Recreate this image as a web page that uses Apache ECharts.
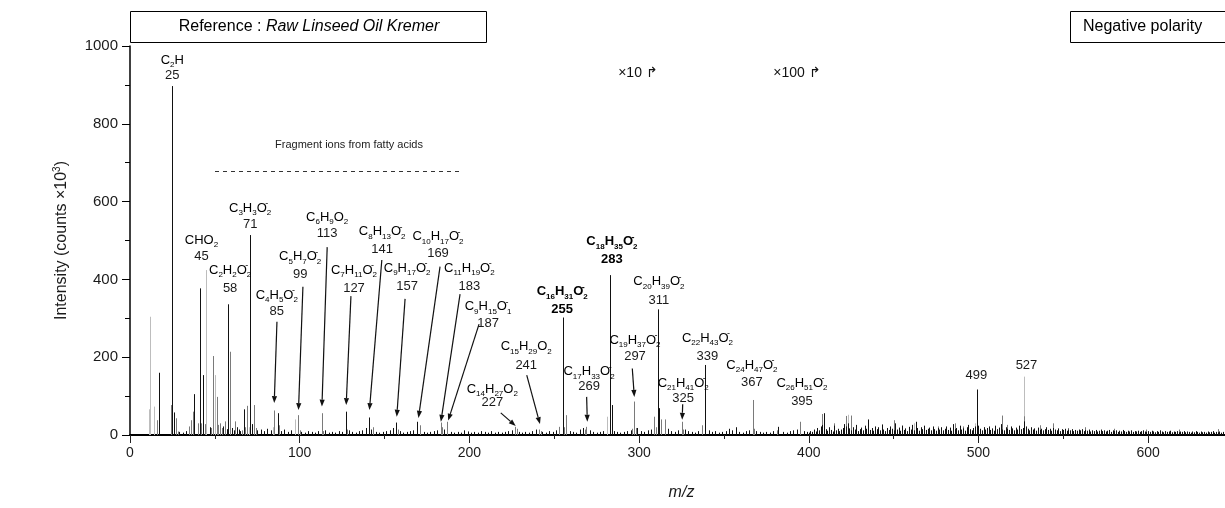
<!DOCTYPE html>
<html>
<head>
<meta charset="utf-8">
<script src="https://cdn.jsdelivr.net/npm/echarts@6/dist/echarts.min.js"></script>
<style>
  html, body { margin: 0; padding: 0; background: #fff; }
  #chart { width: 1225px; height: 508px; }
</style>
</head>
<body>
<div id="chart"></div>
<script>
// ToF-SIMS negative spectrum, intensity in counts x10^3, peaks as [m/z, intensity]
const peaksBlack = [
  [17,160],[25,897],[26,58],[29,8],[31,6],[33,10],[38,105],[41,377],[43,154],[47,20],[55,22],[57,15],[58,336],
  [60,18],[61,12],[63,20],[64,14],[65,10],[67,66],[71,514],[72,28],[75,12],[77,14],[79,10],[81,16],[83,12],
  [87,56],[89,10],[91,14],[93,8],[95,12],[101,8],[103,6],[105,10],[107,8],[109,6],[111,10],[115,12],[117,6],
  [119,8],[121,6],[123,10],[125,8],[127,60],[129,12],[131,8],[133,6],[135,10],[137,12],[139,18],[141,45],
  [142,14],[145,8],[147,6],[149,8],[151,10],[153,12],[155,18],[157,32],[159,10],[161,6],[163,8],[165,10],
  [167,12],[169,34],[173,8],[175,6],[177,8],[179,10],[181,12],[185,14],[189,8],[191,6],[193,8],[195,6],
  [197,12],[199,8],[201,6],[203,8],[205,6],[207,10],[209,8],[211,6],[213,10],[215,6],[217,8],[219,6],[221,8],
  [223,10],[225,12],[229,8],[231,6],[233,8],[235,6],[237,10],[239,14],[243,8],[245,6],[247,10],[249,8],
  [251,12],[255,302],[259,10],[261,8],[263,6],[265,14],[267,18],[271,12],[273,8],[275,6],[277,8],[279,10],
  [283,411],[284,77],[285,10],[287,8],[289,6],[291,8],[293,10],[295,12],[299,18],[301,10],[303,8],[305,12],
  [307,14],[311,323],[312,69],[317,16],[319,10],[321,8],[323,12],[327,14],[329,10],[331,8],[333,6],[335,10],
  [339,180],[341,12],[343,8],[345,10],[347,6],[349,8],[351,10],[353,16],[355,12],[357,20],[359,8],[361,6],
  [363,10],[365,12],[369,10],[371,8],[373,6],[375,8],[377,6],[379,10],[382,21],[385,8],[387,6],[389,10],
  [391,12],[393,14],[397,10],[399,8]
];
const peaksGray = [
  [16,38],[24,77],[27,43],[28,9],[35,22],[36,38],[37,60],[40,30],[42,30],[44,28],[48,18],[49,203],[51,98],
  [52,26],[53,30],[54,18],[56,35],[59,214],[62,35],[66,12],[68,20],[69,75],[73,77],[74,18],[85,63],[88,25],
  [99,51],[100,12],[113,56],[114,10],[128,14],[143,20],[158,14],[171,25],[183,32],[184,20],[187,34],[199,10],
  [227,21],[228,16],[241,14],[242,10],[253,21],[256,20],[257,51],[268,14],[269,21],[296,16],[297,86],[298,18],
  [309,47],[310,20],[313,40],[315,40],[325,34],[326,14],[337,25],[353,10],[367,90],[368,16],[381,12],[395,34],
  [408,54],[415,30],[422,49],[425,50],[443,28],[450,38],[455,24],[476,22],[486,30],[491,22],[503,20],[514,50],
  [517,26],[527,48],[536,25],[544,30],[553,18],[563,20],[580,16],[599,14],[618,14],[641,15]
];
const peaksLight = [
  [11,66],[12,304],[14,73],[45,424],[50,154],[70,20],[84,20],[97,40],[281,47],[423,52],[462,30],[498,30],[527,150]
];
// dense high-mass region, one value per nominal mass starting at m/z 400
const denseStart = 400;
const denseBlack = [
  6,10,8,14,9,18,12,22,26,56,15,11,20,13,9,24,12,16,10,14,
  18,28,22,30,17,12,20,14,26,10,15,19,12,24,16,40,13,18,11,22,
  15,20,12,26,14,10,18,13,22,16,12,30,14,19,11,24,13,17,10,21,
  14,26,12,34,18,11,20,15,24,13,16,19,12,22,15,11,18,14,20,12,
  16,22,13,19,11,28,15,18,12,24,14,17,11,20,26,15,12,18,22,117,
  24,16,12,20,14,18,22,13,17,11,24,15,19,28,14,12,20,16,13,22,
  17,12,19,14,24,15,18,35,22,16,12,20,14,17,11,19,13,16,12,15,
  20,13,16,11,18,14,12,17,10,15,13,16,11,14,12,15,10,13,11,14,
  12,15,10,13,11,14,9,12,10,13,9,11,14,10,12,9,11,13,8,12,
  10,12,8,11,9,13,10,8,11,9,12,8,10,9,11,8,10,12,9,8,
  10,8,11,9,7,10,8,12,9,7,10,8,9,11,7,9,8,10,7,9,
  8,10,7,9,8,6,9,7,10,8,6,9,7,8,6,9,7,8,10,6,
  8,7,9,6,8,7,12,6,8,7,6
];

// peak assignments
const labelFormulas = [
  'C2H','CHO2','C2H2O2-','C3H3O2-','C4H5O2-','C5H7O2-','C6H9O2','C7H11O2-','C8H13O2-','C9H17O2-',
  'C10H17O2-','C11H19O2-','C9H15O1-','C14H27O2','C15H29O2','C16H31O2-','C17H33O2-','C18H35O2-',
  'C19H37O2-','C20H39O2-','C21H41O2-','C22H43O2-','C24H47O2-','C26H51O2-','',''
];
const labelMasses = [
  '25','45','58','71','85','99','113','127','141','157','169','183','187','227','241','255','269','283',
  '297','311','325','339','367','395','499','527'
];
const boldMasses = ['255','283'];

// label placement in axis units: [centre m/z, formula y, number y, arrow [x1,y1,x2,y2] or null]
const labelPlacement = [
  [24.9,964,925,null],
  [42.1,501,458,null],
  [59,424,378,null],
  [70.8,583,542,null],
  [86.5,360,317,[86.6,291,85,82]],
  [100.3,458,414,[101.9,381,99.3,64]],
  [116.2,560,517,[116.2,483,113.1,73]],
  [132,424,378,[130.2,357,127.4,77]],
  [148.6,523,478,[148.4,450,141.1,64]],
  [163.3,429,383,[162.1,350,157.2,47]],
  [181.5,510,468,[182.7,433,170,44]],
  [200,429,383,[194.5,362,183.2,34]],
  [211,330,288,[205.7,285,187.5,37]],
  [213.5,118,85,[218.5,57,227.3,23]],
  [233.5,227,180,[233.8,154,241.6,28]],
  [254.7,368,324,null],
  [270.5,163,124,[269.1,98,269.5,34]],
  [284,497,452,null],
  [297.6,244,201,[296,171,297.2,98]],
  [311.7,394,347,null],
  [326,133,95,[325.7,79,325.4,39]],
  [340.3,249,201,null],
  [366.5,180,134,null],
  [396,133,86,null],
  [498.8,null,152,null],
  [528.3,null,180,null]
];

const xTickStep = 100;
const yTickStep = 200;

const FONT = '"Liberation Sans", Arial, Helvetica, sans-serif';
const TEXT = '#1a1a1a';

const densePeaks = denseBlack.map((v, i) => [denseStart + i, v]);
const blackAll = peaksBlack.concat(densePeaks);

function stickSeries(name, data, color, z) {
  return {
    name, type: 'custom', data, z, clip: true,
    encode: { x: 0, y: 1 },
    renderItem(params, api) {
      const base = api.coord([api.value(0), 0]);
      const top = api.coord([api.value(0), api.value(1)]);
      const x = Math.round(base[0]) + 0.5;
      return {
        type: 'line',
        shape: { x1: x, y1: base[1], x2: x, y2: top[1] },
        style: { stroke: color, lineWidth: 1 }
      };
    }
  };
}

function formulaRich(f, bold) {
  const k = bold ? 'B' : '';
  let out = '';
  const re = /([A-Za-z]+)|(\d+)|(-)/g;
  let m;
  while ((m = re.exec(f))) {
    if (m[1]) out += '{m' + k + '|' + m[1] + '}';
    else if (m[2]) out += '{s' + k + '|' + m[2] + '}';
    else out += '{p' + k + '|-}';
  }
  // put the charge sign above the last subscript
  out = out.replace(/(\{s[B]?\|\d+\})(\{p[B]?\|-\})$/, '$2$1');
  return out;
}

const rich = {
  m:  { fontFamily: FONT, fontSize: 13, lineHeight: 18, color: TEXT, verticalAlign: 'middle' },
  s:  { fontFamily: FONT, fontSize: 8, lineHeight: 8, color: TEXT, verticalAlign: 'bottom' },
  p:  { fontFamily: FONT, fontSize: 9, lineHeight: 9, color: TEXT, verticalAlign: 'top', width: 0 },
  mB: { fontFamily: FONT, fontSize: 13, lineHeight: 18, color: '#000', fontWeight: 'bold', verticalAlign: 'middle' },
  sB: { fontFamily: FONT, fontSize: 8, lineHeight: 8, color: '#000', fontWeight: 'bold', verticalAlign: 'bottom' },
  pB: { fontFamily: FONT, fontSize: 9, lineHeight: 9, color: '#000', fontWeight: 'bold', verticalAlign: 'top', width: 0 }
};

const labelSeries = {
  name: 'assignments', type: 'custom', z: 10, clip: false,
  data: labelPlacement.map((p, i) => [p[0], p[2], i]),
  encode: { x: 0, y: 1 },
  renderItem(params, api) {
    const i = api.value(2);
    const p = labelPlacement[i];
    const bold = boldMasses.indexOf(labelMasses[i]) >= 0;
    const children = [];
    if (labelFormulas[i]) {
      const c = api.coord([p[0], p[1]]);
      children.push({
        type: 'text', x: c[0], y: c[1],
        style: { text: formulaRich(labelFormulas[i], bold), rich, align: 'center', verticalAlign: 'middle' }
      });
    }
    const n = api.coord([p[0], p[2]]);
    children.push({
      type: 'text', x: n[0], y: n[1],
      style: {
        text: labelMasses[i], fill: bold ? '#000' : TEXT, align: 'center', verticalAlign: 'middle',
        font: (bold ? 'bold ' : '') + '13px ' + FONT
      }
    });
    if (p[3]) {
      const a = api.coord([p[3][0], p[3][1]]);
      const b = api.coord([p[3][2], p[3][3]]);
      const dx = b[0] - a[0], dy = b[1] - a[1];
      const len = Math.sqrt(dx * dx + dy * dy);
      const ux = dx / len, uy = dy / len;
      const hl = 7, hw = 2.6;
      const bx = b[0] - ux * hl, by = b[1] - uy * hl;
      children.push({
        type: 'line',
        shape: { x1: a[0], y1: a[1], x2: bx, y2: by },
        style: { stroke: '#111', lineWidth: 1.2 }
      });
      children.push({
        type: 'polygon',
        shape: { points: [[b[0], b[1]], [bx - uy * hw, by + ux * hw], [bx + uy * hw, by - ux * hw]] },
        style: { fill: '#111' }
      });
    }
    return { type: 'group', children };
  }
};

const chart = echarts.init(document.getElementById('chart'), null, { renderer: 'canvas' });
chart.setOption({
  animation: false,
  backgroundColor: '#fff',
  grid: { left: 130, right: -8, top: 46, bottom: 73, containLabel: false, outerBoundsMode: 'none' },
  xAxis: [{
    type: 'value', min: 0, max: 650, interval: xTickStep, position: 'bottom',
    name: 'm/z', nameLocation: 'middle', nameGap: 50,
    nameTextStyle: { fontFamily: FONT, fontSize: 16, fontStyle: 'italic', color: TEXT },
    axisLine: { show: true, onZero: false, lineStyle: { color: '#555', width: 1.5 } },
    axisTick: { show: true, length: 8, inside: false, lineStyle: { color: '#222', width: 1 } },
    minorTick: { show: true, splitNumber: 2, length: 4, lineStyle: { color: '#222', width: 1 } },
    axisLabel: { fontFamily: FONT, fontSize: 14, color: TEXT, margin: 11, showMaxLabel: false,
                 formatter: v => String(v) },
    splitLine: { show: false }
  }, {
    type: 'value', min: 0, max: 650, position: 'top',
    axisLine: { show: true, lineStyle: { color: '#000', width: 2 } },
    axisTick: { show: false }, axisLabel: { show: false }, splitLine: { show: false }
  }],
  yAxis: {
    type: 'value', min: 0, max: 1000, interval: yTickStep,
    name: '{a|Intensity (counts ×10}{s|3}{a|)}', nameLocation: 'middle', nameGap: 58, nameRotate: 90,
    nameTextStyle: {
      rich: {
        a: { fontFamily: FONT, fontSize: 16, color: TEXT, lineHeight: 20, verticalAlign: 'middle' },
        s: { fontFamily: FONT, fontSize: 10, color: TEXT, lineHeight: 10, verticalAlign: 'top' }
      }
    },
    axisLine: { show: true, onZero: false, lineStyle: { color: '#000', width: 1.5 } },
    axisTick: { show: true, length: 8, inside: false, lineStyle: { color: '#000', width: 1 } },
    minorTick: { show: true, splitNumber: 2, length: 5, lineStyle: { color: '#000', width: 1 } },
    axisLabel: { fontFamily: FONT, fontSize: 15, color: TEXT, margin: 12, formatter: v => String(v) },
    splitLine: { show: false }
  },
  series: [
    stickSeries('light', peaksLight, '#bdbdbd', 2),
    stickSeries('gray', peaksGray, '#7a7a7a', 3),
    stickSeries('black', blackAll, '#111', 4),
    labelSeries
  ],
  graphic: [
    { type: 'rect', z: 20, shape: { x: 130.5, y: 11.5, width: 356, height: 31 },
      style: { fill: '#fff', stroke: '#000', lineWidth: 1 } },
    { type: 'text', z: 21, x: 309, y: 27,
      style: {
        text: '{n|Reference : }{i|Raw Linseed Oil Kremer}', align: 'center', verticalAlign: 'middle',
        rich: {
          n: { fontFamily: FONT, fontSize: 16, color: '#000' },
          i: { fontFamily: FONT, fontSize: 16, fontStyle: 'italic', color: '#000' }
        }
      } },
    { type: 'rect', z: 20, shape: { x: 1070.5, y: 11.5, width: 170, height: 31 },
      style: { fill: '#fff', stroke: '#000', lineWidth: 1 } },
    { type: 'text', z: 21, x: 1083, y: 27,
      style: { text: 'Negative polarity', font: '16px ' + FONT, fill: '#000', align: 'left', verticalAlign: 'middle' } },
    { type: 'text', z: 21, x: 349, y: 145,
      style: { text: 'Fragment ions from fatty acids', font: '11px ' + FONT, fill: '#222', align: 'center', verticalAlign: 'middle' } },
    { type: 'line', z: 21, shape: { x1: 215, y1: 171.5, x2: 463, y2: 171.5 },
      style: { stroke: '#333', lineWidth: 1, lineDash: [4, 4] } },
    { type: 'text', z: 21, x: 638, y: 73,
      style: { text: '×10 ↱', font: '14px ' + FONT, fill: '#111', align: 'center', verticalAlign: 'middle' } },
    { type: 'text', z: 21, x: 797, y: 73,
      style: { text: '×100 ↱', font: '14px ' + FONT, fill: '#111', align: 'center', verticalAlign: 'middle' } }
  ]
});
</script>
</body>
</html>
